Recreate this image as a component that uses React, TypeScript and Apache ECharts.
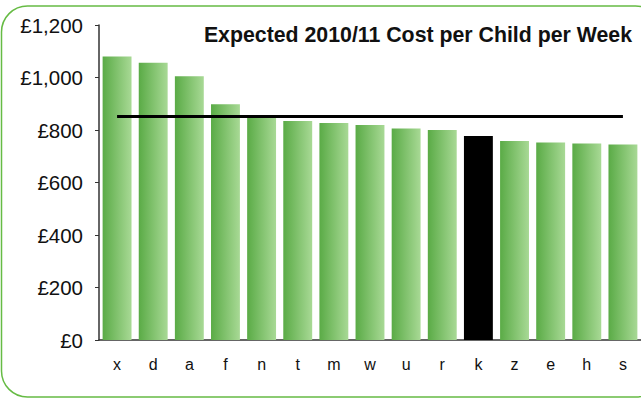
import React, { useEffect, useRef } from "react";
import * as echarts from "echarts";

const categories = ["x", "d", "a", "f", "n", "t", "m", "w", "u", "r", "k", "z", "e", "h", "s"];
const costs = [1080, 1056, 1005, 898, 848, 834, 827, 819, 806, 800, 777, 758, 752, 749, 745];
const highlighted = "k";
const averageValue = 851;
const yTicks = { min: 0, max: 1200, interval: 200 };
const titleText = "Expected 2010/11 Cost per Child per Week";

const FONT = "Liberation Sans";

export default function App() {
  const ref = useRef<HTMLDivElement>(null);
  useEffect(() => {
    if (!ref.current) return;
    const chart = echarts.init(ref.current, undefined, { renderer: "svg" });
    const green = new echarts.graphic.LinearGradient(0, 0, 1, 0, [
      { offset: 0, color: "#5aab46" },
      { offset: 1, color: "#a8d995" },
    ]);
    chart.setOption({
      animation: false,
      backgroundColor: "#ffffff",
      textStyle: { fontFamily: FONT },
      title: {
        text: titleText,
        right: 4,
        top: 19,
        textStyle: { fontSize: 21.3, fontWeight: "bold", color: "#111", fontFamily: FONT },
      },
      graphic: [
        {
          type: "rect",
          shape: { x: 1.5, y: 6, width: 660, height: 391, r: 26 },
          style: { fill: "none", stroke: "#66bb44", lineWidth: 1.5 },
          silent: true,
          z: -1,
        },
      ],
      grid: { left: 99, right: 0, top: 25, bottom: 59, containLabel: false, outerBoundsMode: "none" },
      xAxis: {
        type: "category",
        data: categories,
        axisTick: { show: false },
        axisLine: { lineStyle: { color: "#333", width: 1.5 } },
        axisLabel: {
          margin: 16,
          formatter: (v: string) => "{c|" + v + "}",
          rich: { c: { color: "#111", fontSize: 16, fontFamily: FONT } },
        },
        splitLine: { show: false },
      },
      yAxis: {
        type: "value",
        min: yTicks.min,
        max: yTicks.max,
        interval: yTicks.interval,
        axisLine: { show: true, lineStyle: { color: "#333", width: 1.5 } },
        axisTick: { show: true, length: 4, lineStyle: { color: "#333" } },
        splitLine: { show: false },
        axisLabel: {
          margin: 16,
          formatter: (v: number) => "{v|£" + v.toLocaleString("en-GB") + "}",
          rich: { v: { color: "#111", fontSize: 20.5, fontFamily: FONT } },
        },
      },
      series: [
        {
          type: "bar",
          data: costs.map((v, i) => ({
            value: v,
            itemStyle: { color: categories[i] === highlighted ? "#000000" : green },
          })),
          barCategoryGap: "20%",
        },
        {
          type: "line",
          data: categories.map(() => averageValue),
          symbol: "none",
          lineStyle: { color: "#000", width: 3 },
          z: 5,
        },
      ],
    });
    return () => chart.dispose();
  }, []);
  return <div ref={ref} style={{ position: "fixed", left: 0, top: 0, width: 641, height: 399 }} />;
}
